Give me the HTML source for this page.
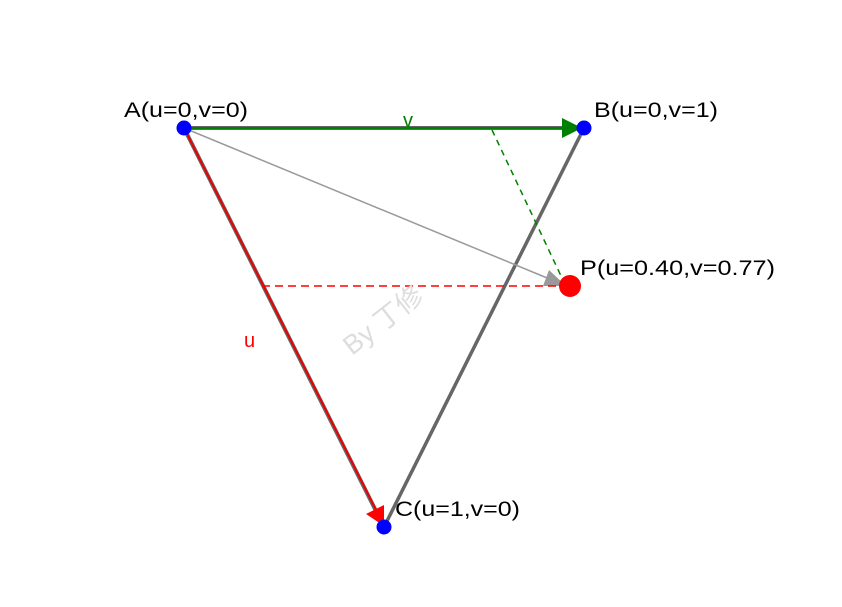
<!DOCTYPE html>
<html><head><style>body{margin:0;background:#fff}</style></head><body>
<svg width="842" height="602" xmlns="http://www.w3.org/2000/svg" font-family="Liberation Sans, sans-serif">
<line x1="184" y1="128" x2="584" y2="128" stroke="#666" stroke-width="4"/>
<line x1="184" y1="128" x2="384" y2="527" stroke="#666" stroke-width="4"/>
<line x1="584" y1="128" x2="384" y2="527" stroke="#666" stroke-width="3.5"/>
<line x1="184" y1="128" x2="566" y2="128" stroke="#008000" stroke-width="2"/>
<polygon points="582,128 562,118 562,138" fill="#008000"/>
<line x1="184" y1="128" x2="376" y2="510" stroke="#e00" stroke-width="2"/>
<polygon points="384,526 366,514 384,505" fill="#f00"/>
<line x1="184" y1="128" x2="552" y2="280" stroke="#999" stroke-width="1.5"/>
<polygon points="566,286 549,270 543,286" fill="#999"/>
<line x1="492" y1="130" x2="562" y2="278" stroke="#008000" stroke-width="1.5" stroke-dasharray="6,5"/>
<line x1="262" y1="286" x2="560" y2="286" stroke="#f00" stroke-width="1.5" stroke-dasharray="8,5"/>
<circle cx="184" cy="128" r="7.5" fill="#00f"/>
<circle cx="584" cy="128" r="7.5" fill="#00f"/>
<circle cx="384" cy="527" r="7.5" fill="#00f"/>
<circle cx="570" cy="286" r="11" fill="#f00"/>
<g font-size="21" fill="#000">
<text x="124" y="117" textLength="124" lengthAdjust="spacingAndGlyphs">A(u=0,v=0)</text>
<text x="594" y="117" textLength="124" lengthAdjust="spacingAndGlyphs">B(u=0,v=1)</text>
<text x="580" y="275" textLength="195" lengthAdjust="spacingAndGlyphs">P(u=0.40,v=0.77)</text>
<text x="395" y="516" textLength="125" lengthAdjust="spacingAndGlyphs">C(u=1,v=0)</text>
</g>
<text x="403" y="127" font-size="20" fill="#008000">v</text>
<text x="244" y="347" font-size="20" fill="#f00">u</text>
<text x="0" y="0" font-size="27" fill="#ddd" font-family="Liberation Sans, Noto Sans CJK SC, sans-serif" transform="translate(352,356) rotate(-38)">By 丁修</text>
</svg>
</body></html>
